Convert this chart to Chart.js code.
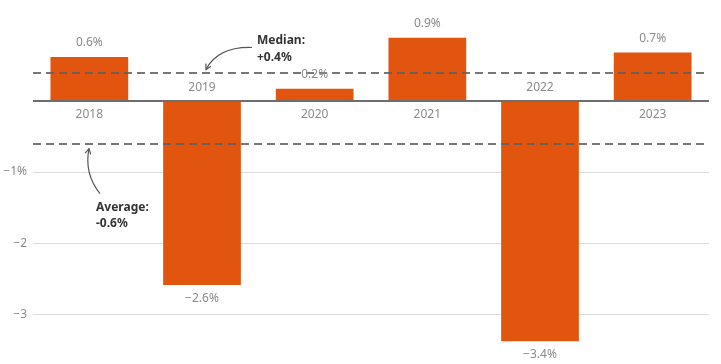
<!DOCTYPE html>
<html>
<head>
<meta charset="utf-8">
<script src="https://cdn.jsdelivr.net/npm/chart.js@4.4.1/dist/chart.umd.min.js"></script>
<style>
  html, body { margin: 0; padding: 0; background: #fff; }
  #wrap { width: 721px; height: 364px; }
</style>
</head>
<body>
<div id="wrap"><canvas id="grafico" width="721" height="364"></canvas></div>
<script>
// dados
const anos = ['2018', '2019', '2020', '2021', '2022', '2023'];
const valores = [0.62, -2.59, 0.17, 0.89, -3.38, 0.68];
const rotulos = ['0.6%', '−2.6%', '0.2%', '0.9%', '−3.4%', '0.7%'];
const ticksY = [-3, -2, -1, 0];
const ticksTexto = { '-1': '−1%', '-2': '−2', '-3': '−3' };
const mediana = 0.4;
const media = -0.6;

const fonte = '"Noto Sans", sans-serif';
const laranja = '#e2550f';

// linhas tracejadas, rótulos e anotações
const extras = {
  id: 'extras',
  afterDatasetsDraw(chart) {
    const { ctx, chartArea, scales } = chart;
    const x = scales.x, y = scales.y;

    // linhas de mediana e média
    ctx.save();
    ctx.strokeStyle = 'rgba(95,95,95,0.85)';
    ctx.lineWidth = 2;
    ctx.setLineDash([8, 5]);
    [mediana, media].forEach(v => {
      const py = Math.round(y.getPixelForValue(v));
      ctx.beginPath();
      ctx.moveTo(chartArea.left, py);
      ctx.lineTo(chartArea.right, py);
      ctx.stroke();
    });
    ctx.restore();

    // rótulos das barras
    ctx.save();
    ctx.font = '12px ' + fonte;
    ctx.fillStyle = '#8a8a8a';
    ctx.textAlign = 'center';
    ctx.textBaseline = 'middle';
    const zero = y.getPixelForValue(0);
    valores.forEach((v, i) => {
      const px = x.getPixelForValue(i);
      const py = y.getPixelForValue(v);
      if (v >= 0) {
        ctx.fillText(rotulos[i], px, py - 14);
        ctx.fillText(anos[i], px, zero + 14);
      } else {
        ctx.fillText(rotulos[i], px, py + 13);
        ctx.fillText(anos[i], px, zero - 13);
      }
    });
    ctx.restore();

    // anotações
    ctx.save();
    ctx.font = 'bold 12px ' + fonte;
    ctx.fillStyle = '#333';
    ctx.textAlign = 'left';
    ctx.textBaseline = 'middle';
    const yMed = y.getPixelForValue(mediana);
    const yMedia = y.getPixelForValue(media);
    ctx.fillText('Median:', 257, yMed - 32);
    ctx.fillText('+0.4%', 257, yMed - 15);
    ctx.fillText('Average:', 96, yMedia + 64);
    ctx.fillText('-0.6%', 96, yMedia + 80);

    ctx.strokeStyle = '#555';
    ctx.lineWidth = 1.2;
    const seta = (x0, y0, cx, cy, x1, y1) => {
      ctx.beginPath();
      ctx.moveTo(x0, y0);
      ctx.quadraticCurveTo(cx, cy, x1, y1);
      ctx.stroke();
      const ang = Math.atan2(y1 - cy, x1 - cx);
      ctx.beginPath();
      ctx.moveTo(x1 - 6 * Math.cos(ang - 0.5), y1 - 6 * Math.sin(ang - 0.5));
      ctx.lineTo(x1, y1);
      ctx.lineTo(x1 - 6 * Math.cos(ang + 0.5), y1 - 6 * Math.sin(ang + 0.5));
      ctx.stroke();
    };
    seta(252, yMed - 25, 218, yMed - 26, 206, yMed - 3);
    seta(100, yMedia + 50, 84, yMedia + 30, 89, yMedia + 5);
    ctx.restore();
  }
};

new Chart(document.getElementById('grafico').getContext('2d'), {
  type: 'bar',
  data: {
    labels: anos,
    datasets: [{
      data: valores,
      backgroundColor: laranja,
      borderWidth: 0,
      barPercentage: 0.69,
      categoryPercentage: 1
    }]
  },
  options: {
    responsive: false,
    animation: false,
    layout: { padding: { left: 0, right: 12, top: 0, bottom: 0 } },
    plugins: { legend: { display: false }, tooltip: { enabled: false } },
    scales: {
      x: { display: false },
      y: {
        min: -3.7,
        max: 1.42,
        afterBuildTicks: (scale) => { scale.ticks = ticksY.map(v => ({ value: v })); },
        afterFit: (scale) => {
          scale.width = 33;
          scale.paddingTop = 0;
          scale.paddingBottom = 0;
        },
        border: { display: false },
        grid: {
          drawTicks: false,
          color: (c) => c.tick && c.tick.value === 0 ? '#6e6e6e' : '#dcdcdc',
          lineWidth: (c) => c.tick && c.tick.value === 0 ? 2 : 1
        },
        ticks: {
          padding: 6,
          color: '#8a8a8a',
          font: { family: fonte, size: 12 },
          callback: (v) => ticksTexto[String(v)] || ''
        }
      }
    }
  },
  plugins: [extras]
});
</script>
</body>
</html>
